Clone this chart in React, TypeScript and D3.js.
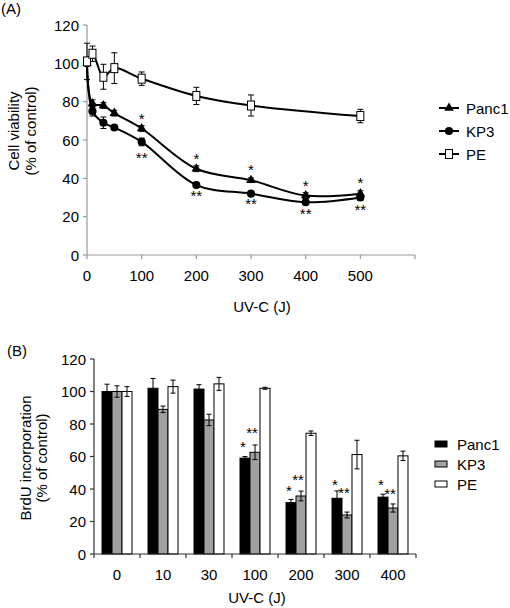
import React from 'react';
import * as d3 from 'd3';

// ---------- Panel A data ----------
const dosesA = [0, 10, 30, 50, 100, 200, 300, 400, 500];
const panc1Viab = [100, 79, 78, 74, 66, 45, 39, 31, 32];
const panc1ViabErr = [1, 2, 1.5, 1.5, 1.5, 1.5, 1.2, 1.5, 1.5];
const kp3Viab = [100, 75, 69, 66.5, 59, 36.5, 32, 27.5, 30];
const kp3ViabErr = [1, 2.5, 3, 1, 2, 1, 1, 1, 1.5];
const peDosesA = [0, 10, 30, 50, 100, 200, 300, 500];
const peViab = [101, 105, 93, 97.5, 92, 83, 78, 72.5];
const peViabErr = [9.5, 4, 6.5, 8, 3.5, 4.5, 5.5, 3.5];
const xTicksA = [0, 100, 200, 300, 400, 500, 600];
const xTickLabelsA = ['0', '100', '200', '300', '400', '500', ''];
const yTicks = [0, 20, 40, 60, 80, 100, 120];
// significance marks (value where the mark is centred)
const starDosesA = [100, 200, 300, 400, 500];
const panc1StarY = [73, 52, 46, 37.7, 39.7];
const kp3StarY = [52.5, 32.5, 28.7, 23.1, 25.6];

// ---------- Panel B data ----------
const categoriesB = ['0', '10', '30', '100', '200', '300', '400'];
const seriesNames = ['Panc1', 'KP3', 'PE'];
const panc1Brdu = [100, 102, 101.5, 59, 31.6, 34.3, 35];
const panc1BrduErr = [4.5, 6, 2.7, 1, 2, 4.5, 1.8];
const kp3Brdu = [100, 89, 82.5, 62.6, 35.7, 24, 28.3];
const kp3BrduErr = [3.5, 2, 3.5, 4.5, 3, 1.8, 2.5];
const peBrdu = [100, 103, 104.7, 102, 74.3, 61.2, 60.4];
const peBrduErr = [3, 4, 4, 0.6, 1.4, 8.8, 2.9];
const starCatsB = ['100', '200', '300', '400'];
const panc1StarB = [67.9, 40.7, 44.5, 44.5];
const kp3StarB = [76.5, 47.5, 39.5, 39.2];

const FONT = '"Liberation Sans", Arial, sans-serif';
const FS = 15;
const STAR_SHIFT = 8.6; // baseline offset so that the asterisk glyph is centred

export default function App() {
  // Panel A scales
  const xA = d3.scaleLinear().domain([0, 600]).range([87, 415]);
  const yA = d3.scaleLinear().domain([0, 120]).range([255, 25]);
  const line = d3
    .line<[number, number]>()
    .x((d) => xA(d[0]))
    .y((d) => yA(d[1]))
    .curve(d3.curveCatmullRom.alpha(0.5));

  const panc1Pts = dosesA.map((d, i) => [d, panc1Viab[i]] as [number, number]);
  const kp3Pts = dosesA.map((d, i) => [d, kp3Viab[i]] as [number, number]);
  const pePts = peDosesA.map((d, i) => [d, peViab[i]] as [number, number]);

  const tri = d3.symbol(d3.symbolTriangle, 40)() as string;
  const circ = d3.symbol(d3.symbolCircle, 52)() as string;

  // Panel B scales
  const xB = d3.scaleBand<string>().domain(categoriesB).range([94, 416]).paddingInner(0.348).paddingOuter(0.174);
  const xBInner = d3.scaleBand<string>().domain(seriesNames).range([0, xB.bandwidth()]);
  const yB = d3.scaleLinear().domain([0, 120]).range([554, 359]);
  const step = xB.step();
  const valsB = [panc1Brdu, kp3Brdu, peBrdu];
  const errsB = [panc1BrduErr, kp3BrduErr, peBrduErr];
  const fillsB = ['#000000', '#a0a0a0', '#ffffff'];

  const errBar = (x: number, y0: number, y1: number, cap: number, key: string) => (
    <g key={key} stroke="#000" strokeWidth={1}>
      <line x1={x} x2={x} y1={y0} y2={y1} />
      <line x1={x - cap} x2={x + cap} y1={y0} y2={y0} />
      <line x1={x - cap} x2={x + cap} y1={y1} y2={y1} />
    </g>
  );

  const axisA = '#9a9a9a';
  const axisB = '#333333';

  return (
    <svg
      width={510}
      height={608}
      style={{ position: 'absolute', left: 0, top: 0, background: '#fff' }}
      fontFamily={FONT}
      fontSize={FS}
    >
      <rect x={0} y={0} width={510} height={608} fill="#fff" />
      {/* ================= Panel A ================= */}
      <text x={1} y={14}>(A)</text>
      {/* axes */}
      <line x1={xA(0)} x2={xA(0)} y1={yA(0)} y2={yA(120)} stroke={axisA} strokeWidth={1.2} />
      <line x1={xA(0)} x2={xA(600)} y1={yA(0)} y2={yA(0)} stroke={axisA} strokeWidth={1.2} />
      {yTicks.map((t) => (
        <g key={'ya' + t}>
          <line x1={xA(0) - 4} x2={xA(0)} y1={yA(t)} y2={yA(t)} stroke={axisA} strokeWidth={1.2} />
          <text x={79} y={yA(t)} textAnchor="end" dominantBaseline="central" fill="#000">
            {t}
          </text>
        </g>
      ))}
      {xTicksA.map((t, i) => (
        <g key={'xa' + t}>
          <line x1={xA(t)} x2={xA(t)} y1={yA(0)} y2={yA(0) + 4} stroke={axisA} strokeWidth={1.2} />
          <text x={xA(t)} y={281} textAnchor="middle">
            {xTickLabelsA[i]}
          </text>
        </g>
      ))}
      <text x={262} y={312} textAnchor="middle">UV-C (J)</text>
      <g transform="translate(19,131) rotate(-90)">
        <text x={0} y={0} textAnchor="middle">Cell viability</text>
      </g>
      <g transform="translate(36,131) rotate(-90)">
        <text x={0} y={0} textAnchor="middle">(% of control)</text>
      </g>

      {/* curves */}
      <path d={line(pePts) as string} fill="none" stroke="#000" strokeWidth={2} />
      <path d={line(panc1Pts) as string} fill="none" stroke="#000" strokeWidth={2} />
      <path d={line(kp3Pts) as string} fill="none" stroke="#000" strokeWidth={2} />

      {/* error bars */}
      {dosesA.map((d, i) =>
        errBar(xA(d), yA(panc1Viab[i] + panc1ViabErr[i]), yA(panc1Viab[i] - panc1ViabErr[i]), 3, 'pe1' + d)
      )}
      {dosesA.map((d, i) =>
        errBar(xA(d), yA(kp3Viab[i] + kp3ViabErr[i]), yA(kp3Viab[i] - kp3ViabErr[i]), 3, 'ke1' + d)
      )}
      {peDosesA.map((d, i) =>
        errBar(xA(d), yA(peViab[i] + peViabErr[i]), yA(peViab[i] - peViabErr[i]), 3, 'ee1' + d)
      )}

      {/* markers */}
      {panc1Pts.map((p, i) => (
        <path key={'pm' + i} d={tri} transform={`translate(${xA(p[0])},${yA(p[1])})`} fill="#000" />
      ))}
      {kp3Pts.map((p, i) => (
        <path key={'km' + i} d={circ} transform={`translate(${xA(p[0])},${yA(p[1])})`} fill="#000" />
      ))}
      {pePts.map((p, i) => (
        <rect
          key={'em' + i}
          x={xA(p[0]) - 3.5}
          y={yA(p[1]) - 4.5}
          width={7}
          height={9}
          fill="#fff"
          stroke="#000"
          strokeWidth={1}
        />
      ))}

      {/* stars */}
      {starDosesA.map((d, i) => (
        <text key={'sa' + d} x={xA(d)} y={yA(panc1StarY[i]) + STAR_SHIFT} textAnchor="middle">*</text>
      ))}
      {starDosesA.map((d, i) => (
        <text key={'sb' + d} x={xA(d)} y={yA(kp3StarY[i]) + STAR_SHIFT} textAnchor="middle">**</text>
      ))}

      {/* legend A */}
      {seriesNames.map((s, i) => {
        const ly = 108 + i * 23;
        return (
          <g key={'la' + s}>
            <line x1={439} x2={459} y1={ly} y2={ly} stroke="#000" strokeWidth={2} />
            {i === 0 && <path d={tri} transform={`translate(449,${ly})`} fill="#000" />}
            {i === 1 && <path d={circ} transform={`translate(449,${ly})`} fill="#000" />}
            {i === 2 && (
              <rect x={445.5} y={ly - 4.5} width={7} height={9} fill="#fff" stroke="#000" strokeWidth={1} />
            )}
            <text x={466} y={ly} dominantBaseline="central">{s}</text>
          </g>
        );
      })}

      {/* ================= Panel B ================= */}
      <text x={7} y={356}>(B)</text>
      {/* bars */}
      {categoriesB.map((c, ci) =>
        seriesNames.map((s, si) => {
          const v = valsB[si][ci];
          const x0 = (xB(c) as number) + (xBInner(s) as number);
          return (
            <rect
              key={'b' + c + s}
              x={x0}
              y={yB(v)}
              width={xBInner.bandwidth()}
              height={yB(0) - yB(v)}
              fill={fillsB[si]}
              stroke="#000"
              strokeWidth={1}
            />
          );
        })
      )}
      {categoriesB.map((c, ci) =>
        seriesNames.map((s, si) => {
          const v = valsB[si][ci];
          const e = errsB[si][ci];
          const cx = (xB(c) as number) + (xBInner(s) as number) + xBInner.bandwidth() / 2;
          return errBar(cx, yB(v + e), yB(v - e), 2.5, 'eb' + c + s);
        })
      )}
      {/* axes B */}
      <line x1={94} x2={94} y1={yB(0)} y2={yB(120)} stroke={axisB} strokeWidth={1.2} />
      <line x1={94} x2={416} y1={yB(0)} y2={yB(0)} stroke={axisB} strokeWidth={1.2} />
      {yTicks.map((t) => (
        <g key={'yb' + t}>
          <line x1={90} x2={94} y1={yB(t)} y2={yB(t)} stroke={axisB} strokeWidth={1.2} />
          <text x={86} y={yB(t)} textAnchor="end" dominantBaseline="central">
            {t}
          </text>
        </g>
      ))}
      {d3.range(categoriesB.length + 1).map((i) => (
        <line
          key={'xbt' + i}
          x1={94 + i * step}
          x2={94 + i * step}
          y1={yB(0)}
          y2={yB(0) + 4}
          stroke={axisB}
          strokeWidth={1.2}
        />
      ))}
      {categoriesB.map((c) => (
        <text key={'xbl' + c} x={(xB(c) as number) + xB.bandwidth() / 2} y={580} textAnchor="middle">
          {c}
        </text>
      ))}
      <text x={257} y={603} textAnchor="middle">UV-C (J)</text>
      <g transform="translate(31,458) rotate(-90)">
        <text x={0} y={0} textAnchor="middle">BrdU incorporation</text>
      </g>
      <g transform="translate(47,458) rotate(-90)">
        <text x={0} y={0} textAnchor="middle">(% of control)</text>
      </g>

      {/* stars B */}
      {starCatsB.map((c, i) => (
        <text
          key={'sbp' + c}
          x={(xB(c) as number) + (xBInner('Panc1') as number) + xBInner.bandwidth() / 2 - 2}
          y={yB(panc1StarB[i]) + STAR_SHIFT}
          textAnchor="middle"
        >
          *
        </text>
      ))}
      {starCatsB.map((c, i) => (
        <text
          key={'sbk' + c}
          x={(xB(c) as number) + (xBInner('KP3') as number) + xBInner.bandwidth() / 2 - 3}
          y={yB(kp3StarB[i]) + STAR_SHIFT}
          textAnchor="middle"
        >
          **
        </text>
      ))}

      {/* legend B */}
      {seriesNames.map((s, i) => {
        const ly = 444 + i * 20;
        return (
          <g key={'lb' + s}>
            <rect x={435} y={ly - 3} width={12} height={6} fill={fillsB[i]} stroke="#000" strokeWidth={1} />
            <text x={457} y={ly} dominantBaseline="central">{s}</text>
          </g>
        );
      })}
    </svg>
  );
}
